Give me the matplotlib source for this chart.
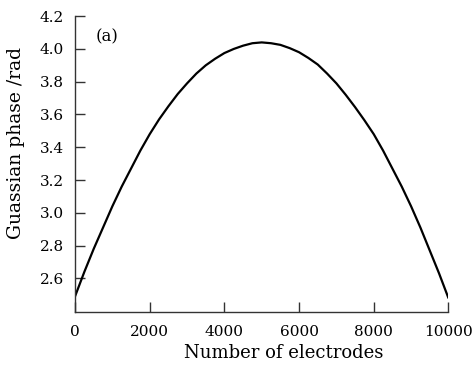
import matplotlib
matplotlib.use('Agg')
import matplotlib.pyplot as plt

# Values
electrodes = [0, 250, 500, 750, 1000, 1250, 1500, 1750, 2000, 2250, 2500,
              2750, 3000, 3250, 3500, 3750, 4000, 4250, 4500, 4750, 5000,
              5250, 5500, 5750, 6000, 6250, 6500, 6750, 7000, 7250, 7500,
              7750, 8000, 8250, 8500, 8750, 9000, 9250, 9500, 9750, 10000]
phase = [2.49, 2.64, 2.78, 2.91, 3.04, 3.16, 3.27, 3.38, 3.48, 3.57, 3.65,
         3.725, 3.79, 3.85, 3.90, 3.94, 3.975, 4.00, 4.02, 4.035, 4.04,
         4.035, 4.025, 4.005, 3.98, 3.945, 3.905, 3.85, 3.79, 3.72, 3.645,
         3.565, 3.48, 3.38, 3.27, 3.16, 3.04, 2.91, 2.77, 2.63, 2.48]
x_ticks = [0, 2000, 4000, 6000, 8000, 10000]
y_ticks = [2.6, 2.8, 3.0, 3.2, 3.4, 3.6, 3.8, 4.0, 4.2]

plt.rcParams['font.family'] = ['DejaVu Serif']
plt.rcParams['font.size'] = 11

fig = plt.figure(figsize=(4.75, 3.68), dpi=100)
ax = fig.add_axes([0.158, 0.152, 0.786, 0.804])

ax.plot(electrodes, phase, color='black', linewidth=1.6,
        solid_joinstyle='round', solid_capstyle='round')

ax.set_xlim(0, 10000)
ax.set_ylim(2.394, 4.2)
ax.set_xticks(x_ticks)
ax.set_yticks(y_ticks)
ax.set_yticklabels([f'{v:.1f}' for v in y_ticks])

for side in ['top', 'right']:
    ax.spines[side].set_visible(False)
for side in ['left', 'bottom']:
    ax.spines[side].set_color('#333333')
    ax.spines[side].set_linewidth(1.0)
ax.tick_params(direction='in', length=7, width=1.0, color='#333333')
ax.tick_params(axis='x', pad=9)
ax.tick_params(axis='y', pad=8)

ax.set_xlabel('Number of electrodes', fontsize=13)
ax.xaxis.set_label_coords(0.56, -0.108)
ax.set_ylabel('Guassian phase /rad', fontsize=13.5)
ax.yaxis.set_label_coords(-0.133, 0.57)

ax.text(0.055, 0.93, '(a)', transform=ax.transAxes, fontsize=12,
        ha='left', va='center')

fig.savefig('out.png', dpi=100, facecolor='white')
